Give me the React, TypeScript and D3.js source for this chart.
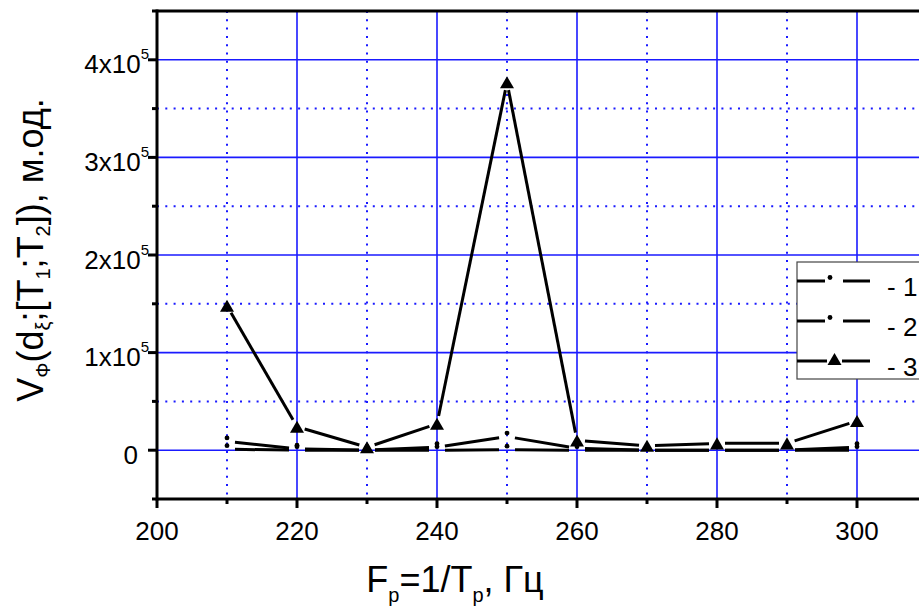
import React from "react";
import * as d3 from "d3";

const freqs = [210, 220, 230, 240, 250, 260, 270, 280, 290, 300];
const series1 = [9000, 1500, 0, 3000, 14000, 2000, 0, 0, 0, 3000];
const series2 = [1000, 0, 0, 0, 500, 0, 0, 0, 0, 0];
const series3 = [148000, 24000, 3000, 27000, 377000, 10000, 4500, 7000, 7000, 30000];

const xMajor = [200, 220, 240, 260, 280, 300];
const xMinor = [210, 230, 250, 270, 290];
const yMajor = [0, 100000, 200000, 300000, 400000];
const yMinor = [-50000, 50000, 150000, 250000, 350000, 450000];
const yLabels = ["0", "1x10", "2x10", "3x10", "4x10"];
const legendLabels = ["- 1", "- 2", "- 3"];

const W = 919;
const H = 609;
const FONT = "'Liberation Sans', Arial, sans-serif";
const BLUE = "#1a1aff";

const x = d3.scaleLinear().domain([200, 310]).range([157, 927]);
const y = d3.scaleLinear().domain([-50000, 450000]).range([499, 11]);

const GAP = 8;
const DOT_OFF = -3.5;

function segments(vals: number[]) {
  const pts = freqs.map((f, i) => [x(f), y(vals[i])] as [number, number]);
  const segs: string[] = [];
  for (let i = 0; i < pts.length - 1; i++) {
    const [x1, y1] = pts[i];
    const [x2, y2] = pts[i + 1];
    const dx = x2 - x1, dy = y2 - y1;
    const len = Math.hypot(dx, dy);
    const ux = dx / len, uy = dy / len;
    const p = d3.path();
    p.moveTo(x1 + ux * GAP, y1 + uy * GAP);
    p.lineTo(x2 - ux * GAP, y2 - uy * GAP);
    segs.push(p.toString());
  }
  return segs;
}

function tri(cx: number, cy: number, s = 7) {
  const p = d3.path();
  p.moveTo(cx, cy - s * 0.86);
  p.lineTo(cx - s, cy + s * 0.86);
  p.lineTo(cx + s, cy + s * 0.86);
  p.closePath();
  return p.toString();
}

export default function App() {
  const legendY = [281, 321, 361];
  return (
    <svg width={W} height={H} style={{ position: "absolute", left: 0, top: 0, background: "#fff" }}>
      {/* grid */}
      {xMinor.map((v) => (
        <line key={"xm" + v} x1={x(v)} x2={x(v)} y1={y(450000)} y2={y(-50000)} stroke={BLUE} strokeWidth={2} strokeDasharray="2,6.3" />
      ))}
      {yMinor.slice(1, -1).map((v) => (
        <line key={"ym" + v} x1={x(200)} x2={W} y1={y(v)} y2={y(v)} stroke={BLUE} strokeWidth={2} strokeDasharray="2,6.3" />
      ))}
      {xMajor.slice(1).map((v) => (
        <line key={"xM" + v} x1={x(v)} x2={x(v)} y1={y(450000)} y2={y(-50000)} stroke={BLUE} strokeWidth={1.6} />
      ))}
      {yMajor.map((v) => (
        <line key={"yM" + v} x1={x(200)} x2={W} y1={y(v)} y2={y(v)} stroke={BLUE} strokeWidth={1.6} />
      ))}

      {/* series lines */}
      {[series1, series2, series3].map((s, si) =>
        segments(s).map((d, i) => (
          <path key={"s" + si + "-" + i} d={d} stroke="#000" strokeWidth={3} fill="none" />
        ))
      )}
      {[series1, series2].map((s, si) =>
        s.map((v, i) => (
          <circle key={"d" + si + "-" + i} cx={x(freqs[i])} cy={y(v) + DOT_OFF} r={2.4} fill="#000" />
        ))
      )}
      {series3.map((v, i) => (
        <path key={"t" + i} d={tri(x(freqs[i]), y(v))} fill="#000" />
      ))}

      {/* axes frame */}
      <line x1={x(200)} x2={W} y1={y(450000)} y2={y(450000)} stroke="#000" strokeWidth={3} />
      <line x1={x(200)} x2={x(200)} y1={y(450000) - 1.5} y2={y(-50000) + 1.5} stroke="#000" strokeWidth={3} />
      <line x1={x(200)} x2={W} y1={y(-50000)} y2={y(-50000)} stroke="#000" strokeWidth={3} />

      {/* x ticks */}
      {xMajor.map((v) => (
        <g key={"xt" + v}>
          <line x1={x(v)} x2={x(v)} y1={y(-50000)} y2={y(-50000) + 9} stroke="#000" strokeWidth={3} />
          <text x={x(v)} y={540} textAnchor="middle" fontFamily={FONT} fontSize={26} fill="#000">{v}</text>
        </g>
      ))}
      {xMinor.map((v) => (
        <line key={"xtm" + v} x1={x(v)} x2={x(v)} y1={y(-50000)} y2={y(-50000) + 5} stroke="#000" strokeWidth={3} />
      ))}

      {/* y ticks */}
      {yMajor.map((v, i) => (
        <g key={"yt" + v}>
          <line x1={x(200) - 9} x2={x(200)} y1={y(v)} y2={y(v)} stroke="#000" strokeWidth={3} />
          <text x={i === 0 ? 138 : 149} y={y(v) + 13.5} textAnchor="end" fontFamily={FONT} fontSize={26} fill="#000">
            {yLabels[i]}
            {i > 0 && (
              <tspan fontSize={15} dy={-14}>5</tspan>
            )}
          </text>
        </g>
      ))}
      {yMinor.map((v) => (
        <line key={"ytm" + v} x1={x(200) - 5} x2={x(200)} y1={y(v)} y2={y(v)} stroke="#000" strokeWidth={3} />
      ))}

      {/* legend */}
      <rect x={797} y={262} width={140} height={117} fill="#fff" stroke="#444" strokeWidth={1.2} />
      {legendY.map((ly, i) => (
        <g key={"lg" + i}>
          <line x1={797} x2={i === 2 ? 827 : 825} y1={ly} y2={ly} stroke="#000" strokeWidth={3} />
          <line x1={i === 2 ? 842 : 843} x2={870} y1={ly} y2={ly} stroke="#000" strokeWidth={3} />
          {i < 2 ? (
            <circle cx={830} cy={ly + DOT_OFF} r={2.4} fill="#000" />
          ) : (
            <path d={tri(834.5, ly - 2)} fill="#000" />
          )}
          <text x={887} y={ly + 15} fontFamily={FONT} fontSize={26} fill="#000">{legendLabels[i]}</text>
        </g>
      ))}

      {/* axis titles */}
      <text x={455} y={592} textAnchor="middle" fontFamily={FONT} fontSize={36} fill="#000">
        F<tspan fontSize={20} dy={10}>p</tspan>
        <tspan dy={-10}>=1/T</tspan>
        <tspan fontSize={20} dy={10}>p</tspan>
        <tspan dy={-10}>, Гц</tspan>
      </text>
      <text transform="translate(43,250) rotate(-90)" textAnchor="middle" fontFamily={FONT} fontSize={36} fill="#000">
        V<tspan fontSize={20} dy={7}>Ф</tspan>
        <tspan dy={-7}>(d</tspan>
        <tspan fontSize={20} dy={7}>ξ</tspan>
        <tspan dy={-7}>;[T</tspan>
        <tspan fontSize={20} dy={7}>1</tspan>
        <tspan dy={-7}>;T</tspan>
        <tspan fontSize={20} dy={7}>2</tspan>
        <tspan dy={-7}>]), м.од.</tspan>
      </text>
    </svg>
  );
}
